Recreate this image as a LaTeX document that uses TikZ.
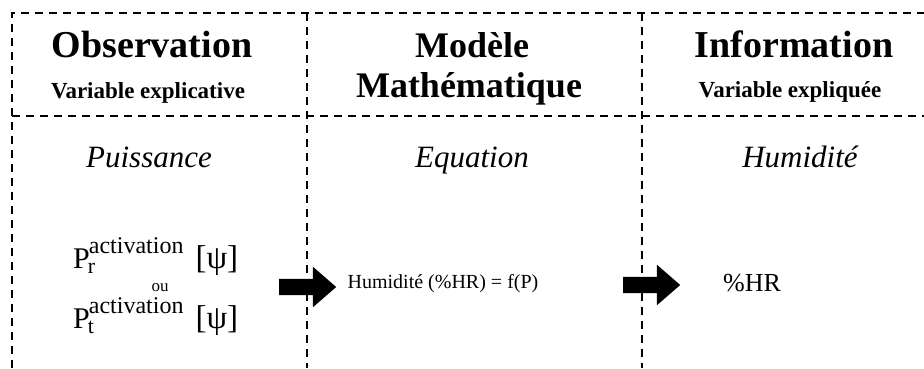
\documentclass[tikz,border=0pt]{standalone}
\usepackage{fontspec}
\setmainfont{Liberation Serif}
\usetikzlibrary{shapes.arrows,positioning}
\newcommand{\Pact}[1]{%
  P\rlap{\kern-2pt\raisebox{-5pt}{\fontsize{22}{22}\selectfont #1}}%
  \kern-1pt\raisebox{15pt}{\fontsize{24}{24}\selectfont activation}%
  \hspace{12pt}{\fontsize{33}{33}\selectfont [ψ]}}

\begin{document}
\begin{tikzpicture}[
  x=1pt,y=-1pt,
  gridline/.style={line width=2pt,dash pattern=on 8pt off 6pt},
  headbig/.style={anchor=base,font=\fontsize{38}{40}\selectfont\bfseries},
  headmid/.style={anchor=base,font=\fontsize{36}{38}\selectfont\bfseries},
  headsmall/.style={anchor=base,font=\fontsize{23}{25}\selectfont\bfseries},
  rowlabel/.style={anchor=base,font=\fontsize{31}{33}\selectfont\itshape},
  blockarrow/.style={
    single arrow,fill=black,draw=none,anchor=tail,
    inner xsep=0pt,inner ysep=8pt,
    minimum height=57pt,
    single arrow head extend=12pt,single arrow tip angle=82
  }
]
\useasboundingbox (0,0) rectangle (924,368);

% ---- dashed frame and columns ----
\draw[gridline] (12,368) -- (12,13) -- (924,13);
\draw[gridline] (12,116) -- (924,116);
\draw[gridline] (307,13) -- (307,368);
\draw[gridline] (642,13) -- (642,368);

% ---- headers ----
\node[headbig] (obsT) at (152,57) {Observation};
\node[headsmall] (obsS) at (148,98) {Variable explicative};
\node[headmid] (modT) at (472,57) {Modèle};
\node[headmid] (modS) at (469,97) {Mathématique};
\node[headbig] (infT) at (794,57) {Information};
\node[headsmall] (infS) at (790,97) {Variable expliquée};

% ---- row labels ----
\node[rowlabel] (puis) at (149,167) {Puissance};
\node[rowlabel] (equa) at (472,167) {Equation};
\node[rowlabel] (humi) at (800,167) {Humidité};

% ---- content ----
\node[anchor=base west,inner sep=0pt,font=\fontsize{30}{30}\selectfont] (pr) at (73,268) {\Pact{r}};
\node[anchor=base,font=\fontsize{17}{17}\selectfont] (ou) at (160,291) {ou};
\node[anchor=base west,inner sep=0pt,font=\fontsize{30}{30}\selectfont] (pt) at (73,328) {\Pact{t}};

\node[anchor=base,font=\fontsize{20}{22}\selectfont] (eq) at (443,288) {Humidité (\%HR) = f(P)};
\node[anchor=base,font=\fontsize{26}{28}\selectfont] (hr) at (752,291) {\%HR};

% ---- block arrows ----
\node[blockarrow] (arrowA) at (279,287) {};
\node[blockarrow] (arrowB) at (623,285) {};

\end{tikzpicture}
\end{document}
